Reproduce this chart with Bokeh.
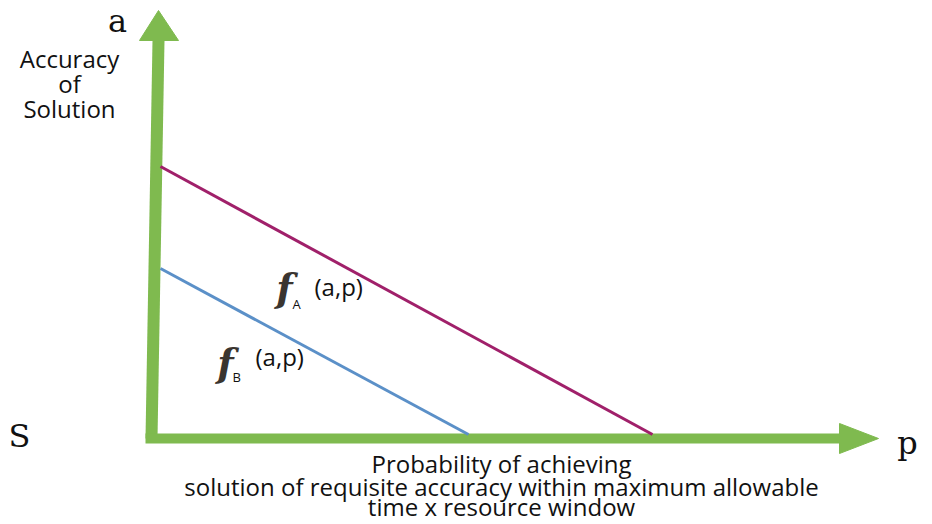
from bokeh.plotting import figure
from bokeh.models import Range1d
from bokeh.core.properties import value
from bokeh.embed import file_html
from bokeh.resources import INLINE

# ---- data (diagram coordinates) ----
y_axis_x = [151, 158]
y_axis_y = [438, 40]
y_head_x = [139, 158, 178]
y_head_y = [40, 10, 40]

x_axis_x = [145, 839]
x_axis_y = [438, 438]
x_head_x = [839, 878, 839]
x_head_y = [423, 438, 453]

line_A_x = [160, 652]
line_A_y = [166, 434]
line_B_x = [160, 468]
line_B_y = [268, 434]

axis_letters = ["a", "S", "p"]
axis_letters_x = [117, 19, 907]
axis_letters_y = [20, 435, 442]

ylabel_lines = ["Accuracy", "of", "Solution"]
ylabel_x = [69, 69, 69]
ylabel_y = [58, 83, 108]

xlabel_lines = ["Probability of achieving",
                "solution of requisite accuracy within maximum allowable",
                "time x resource window"]
xlabel_x = [501, 501, 501]
xlabel_y = [463, 486, 506]

f_letters = ["f", "f"]
f_x = [284, 225]
f_y = [287, 362]
sub_letters = ["A", "B"]
sub_x = [292, 232]
sub_y = [303, 376]
arg_text = ["(a,p)", "(a,p)"]
arg_x = [314, 255]
arg_y = [286, 356]

GREEN = "#7fba4f"

p = figure(width=932, height=524, output_backend="svg", toolbar_location=None,
           x_range=Range1d(0, 932), y_range=Range1d(524, 0), min_border=0)
p.axis.visible = False
p.grid.visible = False
p.outline_line_color = None
p.background_fill_color = "white"

p.line(y_axis_x, y_axis_y, line_color=GREEN, line_width=12)
p.patch(y_head_x, y_head_y, fill_color=GREEN, line_color=GREEN)
p.line(x_axis_x, x_axis_y, line_color=GREEN, line_width=10)
p.patch(x_head_x, x_head_y, fill_color=GREEN, line_color=GREEN)

p.line(line_A_x, line_A_y, line_color="#a0206a", line_width=3)
p.line(line_B_x, line_B_y, line_color="#5b90c8", line_width=3)

p.text(axis_letters_x, axis_letters_y, text=axis_letters, text_font=value("DejaVu Serif"),
       text_font_size="32px", text_align="center", text_baseline="alphabetic", text_color="#111111")
p.text(ylabel_x, ylabel_y, text=ylabel_lines, text_font=value("Open Sans"),
       text_font_size="24px", text_align="center", text_baseline="alphabetic", text_color="#111111")
p.text(xlabel_x, xlabel_y, text=xlabel_lines, text_font=value("Open Sans"),
       text_font_size="24px", text_align="center", text_baseline="alphabetic", text_color="#111111")
p.text(f_x, f_y, text=f_letters, text_font=value("DejaVu Serif"), text_font_style="bold italic",
       text_font_size="38px", text_align="center", text_baseline="alphabetic", text_color="#3a3530")
p.text(sub_x, sub_y, text=sub_letters, text_font=value("Open Sans"),
       text_font_size="13px", text_align="left", text_baseline="alphabetic", text_color="#111111")
p.text(arg_x, arg_y, text=arg_text, text_font=value("Open Sans"),
       text_font_size="24px", text_align="left", text_baseline="alphabetic", text_color="#111111")

open("out.html", "w").write(file_html(p, INLINE))
